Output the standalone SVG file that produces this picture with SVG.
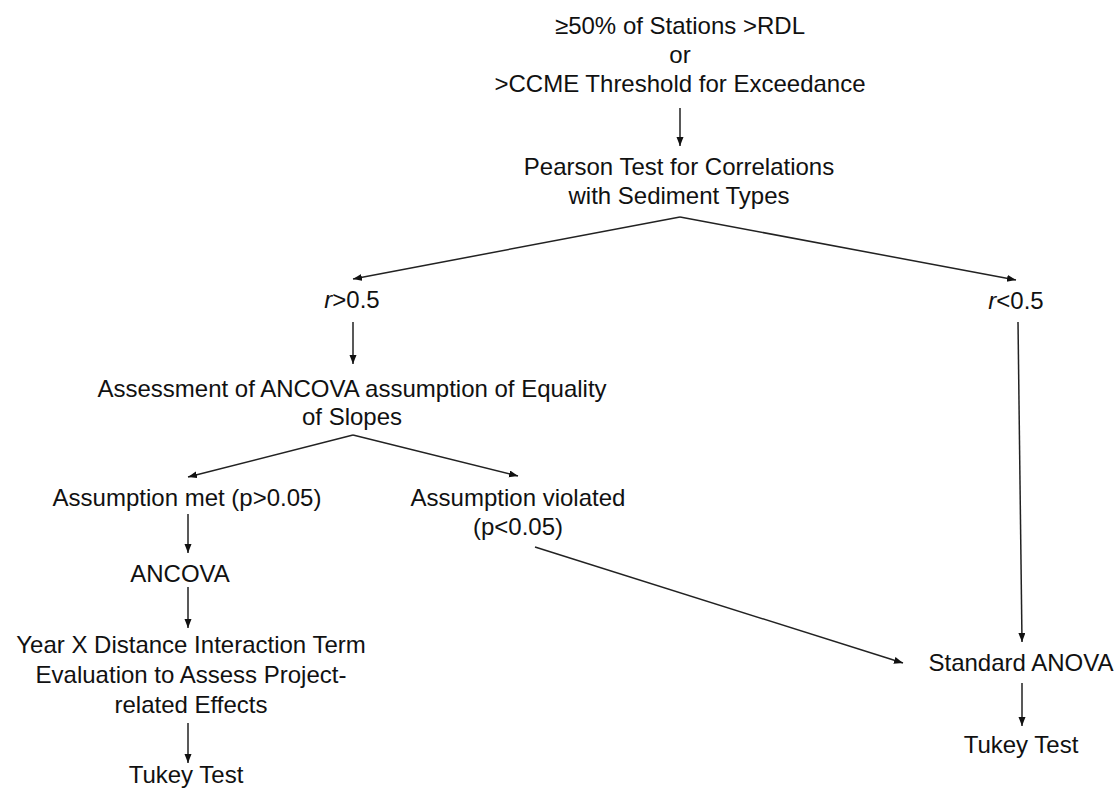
<svg xmlns="http://www.w3.org/2000/svg" width="1115" height="789" viewBox="0 0 1115 789">
  <style>
    text { font-family: "Liberation Sans", Arial, sans-serif; font-size: 24px; fill: #111; text-anchor: middle; }
    .c { stroke: #222; stroke-width: 1.5; fill: none; marker-end: url(#ah); }
  </style>
  <defs>
    <marker id="ah" markerUnits="userSpaceOnUse" markerWidth="10" markerHeight="8" refX="9" refY="3.5" orient="auto">
      <path d="M0,0 L9,3.5 L0,7 z" fill="#111"/>
    </marker>
  </defs>
  <rect width="1115" height="789" fill="#fff"/>

  <g id="connectors">
    <line class="c" x1="680" y1="108" x2="680" y2="146"/>
    <line class="c" x1="680" y1="217" x2="353" y2="279"/>
    <line class="c" x1="680" y1="217" x2="1016" y2="280"/>
    <line class="c" x1="353" y1="322" x2="353" y2="364"/>
    <line class="c" x1="1018" y1="322" x2="1022" y2="642"/>
    <line class="c" x1="353" y1="435" x2="188" y2="477"/>
    <line class="c" x1="353" y1="435" x2="518" y2="476"/>
    <line class="c" x1="188" y1="514" x2="188" y2="553"/>
    <line class="c" x1="188" y1="587" x2="188" y2="628"/>
    <line class="c" x1="188" y1="723" x2="188" y2="763"/>
    <line class="c" x1="535" y1="547" x2="903" y2="663"/>
    <line class="c" x1="1022" y1="683" x2="1022" y2="726"/>
  </g>

  <g id="start">
    <text x="680" y="34">≥50% of Stations &gt;RDL</text>
    <text x="680" y="63">or</text>
    <text x="680" y="92">&gt;CCME Threshold for Exceedance</text>
  </g>
  <g id="pearson">
    <text x="679" y="175">Pearson Test for Correlations</text>
    <text x="679" y="204">with Sediment Types</text>
  </g>
  <g id="r-high">
    <text x="352" y="308"><tspan font-style="italic">r</tspan>&gt;0.5</text>
  </g>
  <g id="r-low">
    <text x="1016" y="309"><tspan font-style="italic">r</tspan>&lt;0.5</text>
  </g>
  <g id="assessment">
    <text x="352" y="397">Assessment of ANCOVA assumption of Equality</text>
    <text x="352" y="425">of Slopes</text>
  </g>
  <g id="met">
    <text x="187" y="506">Assumption met (p&gt;0.05)</text>
  </g>
  <g id="violated">
    <text x="518" y="506">Assumption violated</text>
    <text x="518" y="535">(p&lt;0.05)</text>
  </g>
  <g id="ancova">
    <text x="180" y="582">ANCOVA</text>
  </g>
  <g id="interaction">
    <text x="191" y="653">Year X Distance Interaction Term</text>
    <text x="191" y="683">Evaluation to Assess Project-</text>
    <text x="191" y="713">related Effects</text>
  </g>
  <g id="tukey-left">
    <text x="186" y="783">Tukey Test</text>
  </g>
  <g id="standard-anova">
    <text x="1021" y="671">Standard ANOVA</text>
  </g>
  <g id="tukey-right">
    <text x="1021" y="753">Tukey Test</text>
  </g>
</svg>
